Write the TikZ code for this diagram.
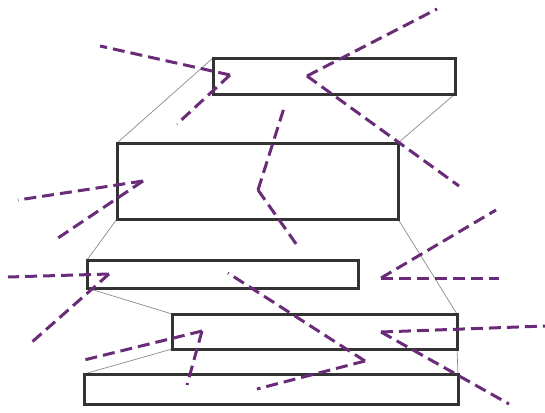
\documentclass[tikz,border=0pt]{standalone}
\begin{document}
\definecolor{pur}{HTML}{6A2C78}
\definecolor{frame}{HTML}{333333}
\definecolor{thin}{HTML}{8A8A8A}
\begin{tikzpicture}[x=1pt,y=-1pt,
  slab/.style={draw=frame,line width=3pt},
  link/.style={draw=thin,line width=0.7pt},
  ray/.style={draw=pur,line width=3pt,dash pattern=on 12pt off 6pt}]
\useasboundingbox (0,0) rectangle (545,412);
% coordinates
\coordinate (a1) at (213,58); \coordinate (a2) at (455,94);
\coordinate (b1) at (117,143); \coordinate (b2) at (398,219);
\coordinate (c1) at (87,260); \coordinate (c2) at (358,288);
\coordinate (d1) at (172,314); \coordinate (d2) at (457,349);
\coordinate (e1) at (84,374); \coordinate (e2) at (458,404);
% thin links
\draw[link] (a1) -- (b1);
\draw[link] (a2) -- (b2 |- b1);
\draw[link] (b1 |- b2) -- (c1);
\draw[link] (b2) -- (d2 |- d1);
\draw[link] (c1 |- c2) -- (d1);
\draw[link] (d1 |- d2) -- (e1);
\draw[link] (d2) -- (e2 |- e1);
% slabs
\draw[slab] (a1) rectangle (a2);
\draw[slab] (b1) rectangle (b2);
\draw[slab] (c1) rectangle (c2);
\draw[slab] (d1) rectangle (d2);
\draw[slab] (e1) rectangle (e2);
% purple rays
\coordinate (p1a) at (100,46); \coordinate (p1v) at (230,75); \coordinate (p1b) at (177,124);
\coordinate (p2a) at (437,9); \coordinate (p2v) at (307,76); \coordinate (p2b) at (459,186);
\coordinate (p3a) at (284,108); \coordinate (p3v) at (258,190); \coordinate (p3b) at (299,248);
\coordinate (p4a) at (18,200); \coordinate (p4v) at (143,181); \coordinate (p4b) at (58,238);
\coordinate (p5a) at (8,277); \coordinate (p5v) at (109,274); \coordinate (p5b) at (32,342);
\coordinate (p6a) at (496,210); \coordinate (p6v) at (381,278); \coordinate (p6b) at (499,278);
\coordinate (p7a) at (80,361); \coordinate (p7v) at (202,331); \coordinate (p7b) at (187,385);
\coordinate (p8a) at (228,273); \coordinate (p8v) at (365,361); \coordinate (p8b) at (257,389);
\coordinate (p9a) at (545,326); \coordinate (p9v) at (381,332); \coordinate (p9b) at (509,404);
\foreach \i in {1,...,9}{
  \draw[ray] (p\i v) -- (p\i a);
  \draw[ray] (p\i v) -- (p\i b);
}
\end{tikzpicture}
\end{document}
